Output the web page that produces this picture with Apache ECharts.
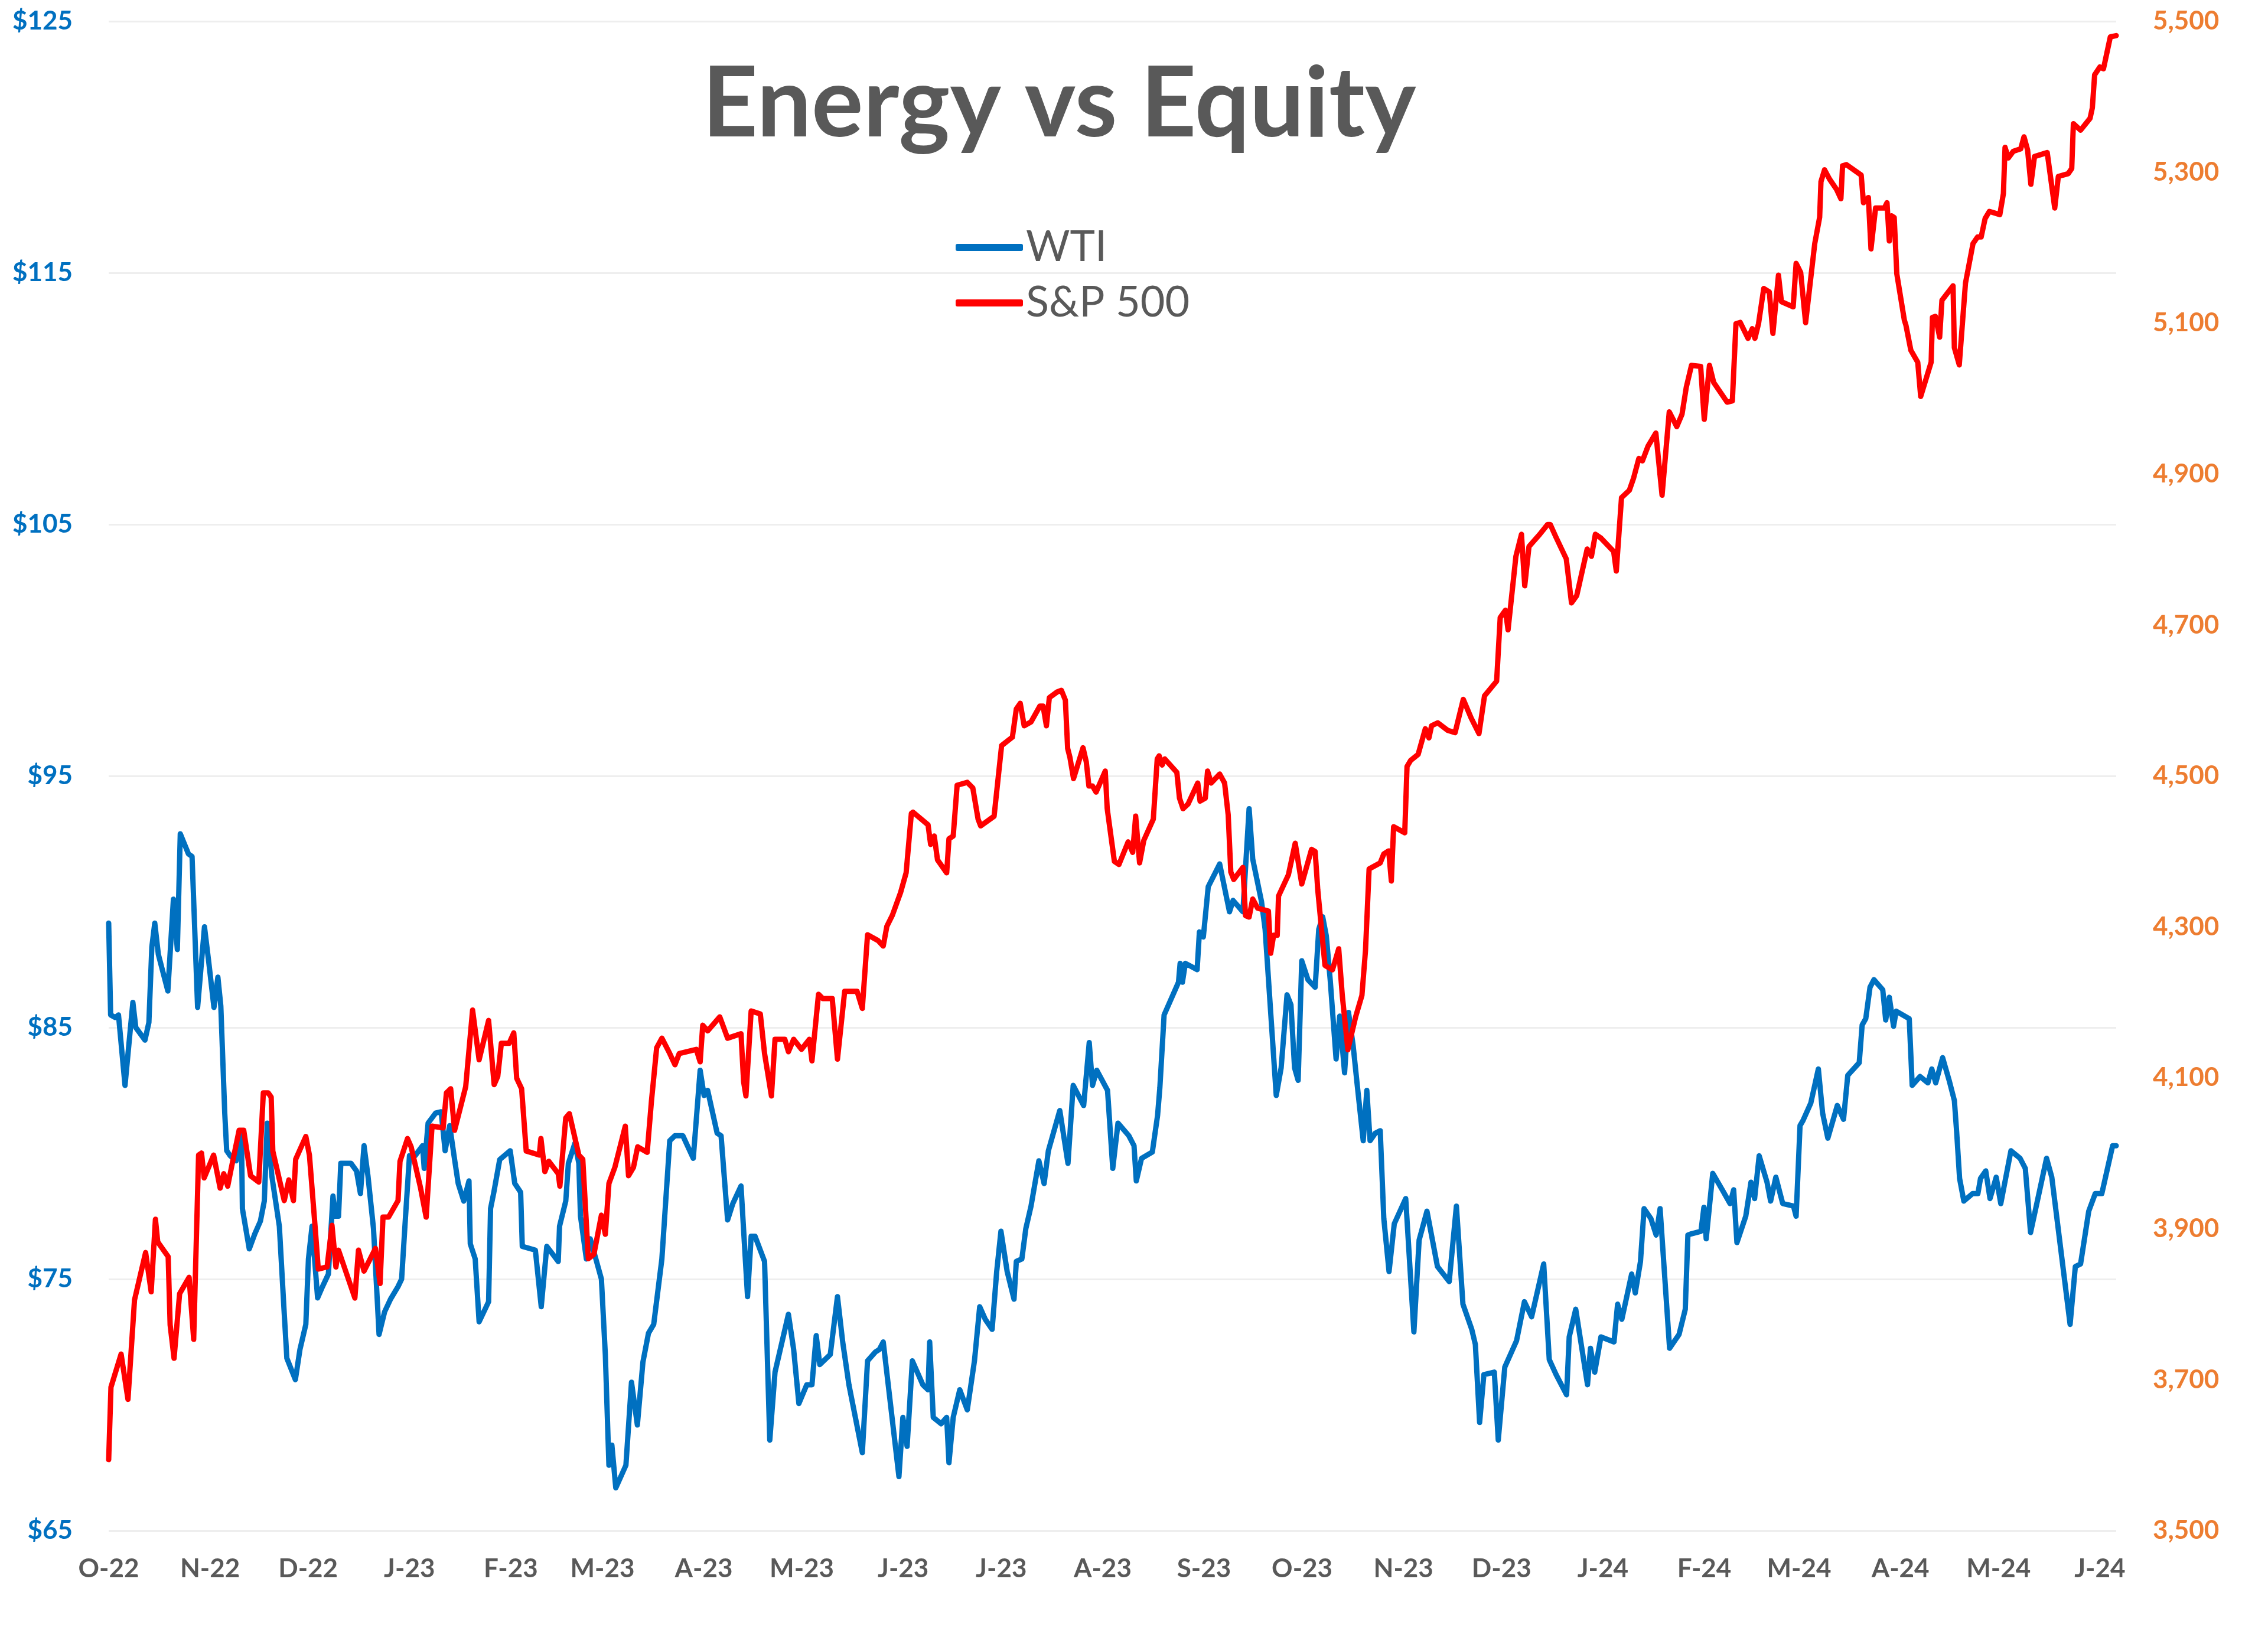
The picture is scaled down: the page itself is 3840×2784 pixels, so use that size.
<!DOCTYPE html>
<html>
<head>
<meta charset="utf-8">
<script src="https://cdn.jsdelivr.net/npm/echarts@6/dist/echarts.min.js"></script>
<style>
html,body{margin:0;padding:0;background:#fff;}
#chart{width:3840px;height:2784px;}
</style>
</head>
<body>
<div id="chart"></div>
<script>
// Day offsets from 13 Oct 2022 and values
const wtiDay = [0,0.6,2,3,5,7.4,8.3,11.1,12.3,13.2,14.1,15.2,18.1,19.8,21.0,21.9,24.4,25.5,27.2,29.3,30.7,32.2,33.4,34.3,35.5,36.1,37.2,39.0,40.1,40.6,40.9,43.0,44.7,46.4,47.6,48.5,49.9,52.2,53.6,54.5,57.1,58.5,60.3,61.1,62.2,63.9,65.4,67.2,68.6,69.3,70.3,71.0,74.1,75.8,77.0,78.1,79.3,81.0,82.7,84.4,86.2,88.5,89.6,90.8,92.0,93.7,96.0,96.5,97.7,100.0,101.7,102.9,104.3,105.8,106.9,108.6,110.2,110.6,112.1,113.3,116.2,116.8,117.8,119.6,122.8,124.2,126.0,126.5,130.5,132.3,134.0,137.5,137.9,139.8,140.6,142.6,143.8,144.3,146.1,147.3,149.0,150.7,151.9,153.0,153.9,155.1,158.2,159.9,161.7,163.4,
165.1,166.7,169.2,171.6,173.2,175.6,178.8,180.9,182.1,183.2,186.1,187.3,189.3,190.9,193.4,195.4,196.5,197.7,200.6,202.2,203.8,207.9,209.5,211.1,213.5,215.1,216.4,217.5,220.7,222.9,224.5,226.4,230.5,232.1,234.5,235.7,236.9,241.7,242.9,244.2,245.8,249.0,250.6,251.1,252.2,254.6,256.3,257.0,258.3,260.3,262.6,264.8,266.4,268.1,270.2,271.6,272.9,274.8,276.9,277.6,279.3,280.5,282.1,284.5,286.1,287.4,290.9,293.4,295.0,298.2,299.9,300.9,302.2,305.5,307.1,308.7,312.0,313.6,314.3,315.9,319.2,320.8,321.5,322.8,327.2,327.7,328.4,329.3,332.9,333.6,334.8,336.3,339.8,342.8,343.9,346.9,348.8,349.9,352.6,353.7,357.1,358.6,360.4,361.6,362.7,363.8,364.9,366.8,369.0,370.1,371.3,372.4,373.6,375.4,376.5,378.0,379.2,380.6,381.8,383.7,384.8,385.8,387.4,388.9,
390.0,391.6,393.2,396.7,399.2,400.8,403.2,406.4,410.0,412.2,414.2,416.9,418.0,419.3,420.6,423.8,425.0,427.0,430.6,433.0,435.2,438.9,440.6,442.7,445.9,446.7,448.7,452.3,453.2,454.5,456.4,460.4,461.5,462.8,465.8,466.9,468.5,469.6,471.7,473.3,474.5,477.4,480.3,482.2,483.0,484.1,487.0,487.9,488.6,490.6,493.5,495.9,497.0,498.0,500.7,502.3,503.4,504.8,507.2,508.3,509.9,512.0,515.3,516.1,517.3,518.2,520.6,522.9,524.2,525.8,528.7,530.6,531.9,535.4,536.3,537.4,538.7,539.9,542.6,543.5,544.6,545.9,546.7,550.7,551.6,554.0,556.4,557.6,558.8,560.9,562.9,564.5,565.2,566.1,567.4,570.1,571.7,572.5,574.1,575.4,577.3,578.7,581.8,584.6,586.2,587.8,592.7,594.3,599.9,601.5,603.1,605.6,607.6,609.6,612.9,614.0];
const wtiVal = [89.15,85.5,85.4,85.5,82.7,86.0,85.0,84.5,85.2,88.2,89.15,87.9,86.45,90.1,88.1,92.7,91.9,91.8,85.8,89.0,87.5,85.8,87.0,85.85,81.6,80.1,79.9,79.7,80.1,80.9,77.8,76.2,76.8,77.3,78.1,81.2,79.1,77.1,73.85,71.85,71.0,72.2,73.2,75.8,77.1,74.25,74.7,75.2,78.3,77.5,77.5,79.6,79.6,79.3,78.4,80.3,79.1,77.0,72.8,73.7,74.2,74.7,75.0,77.5,79.9,79.9,80.3,79.4,81.2,81.6,81.65,80.1,81.1,79.75,78.8,78.1,78.9,76.4,75.8,73.3,74.1,77.8,78.45,79.75,80.1,78.8,78.45,76.3,76.15,73.9,76.3,75.7,77.1,78.1,79.6,80.4,79.6,77.5,75.8,76.6,75.8,75.0,72.0,67.6,68.4,66.7,67.6,70.9,69.2,71.7,
72.85,73.2,75.8,80.5,80.7,80.7,79.8,83.3,82.3,82.5,80.8,80.7,77.35,78.0,78.7,74.3,76.7,76.7,75.7,68.6,71.3,73.6,72.2,70.05,70.8,70.8,72.75,71.6,72.0,74.3,72.5,70.8,68.1,71.75,72.1,72.2,72.5,67.15,69.5,68.35,71.75,70.8,70.6,72.5,69.5,69.25,69.5,67.7,69.5,70.6,69.8,71.75,73.9,73.4,73.0,75.3,76.9,75.3,74.2,75.7,75.8,77.0,77.9,79.7,78.8,80.1,81.7,79.6,82.7,81.9,84.4,82.7,83.3,82.5,79.4,81.2,80.7,80.3,78.9,79.8,80.05,81.5,82.6,85.5,86.8,87.55,86.8,87.55,87.3,88.8,88.6,90.6,91.5,89.6,90.05,89.6,93.7,91.7,90.0,88.9,82.3,83.4,86.3,85.9,83.4,82.9,87.65,86.9,86.6,88.9,89.4,88.65,86.9,83.75,85.45,83.2,85.6,84.3,82.8,80.5,82.5,80.5,80.8,80.9,
77.4,75.3,77.2,78.2,72.9,76.55,77.7,75.5,74.9,77.9,74.0,73.0,72.4,69.3,71.2,71.3,68.6,71.5,72.55,74.1,73.5,75.6,71.8,71.2,70.4,72.7,73.8,70.8,72.25,71.3,72.7,72.5,74.0,73.4,75.2,74.45,75.7,77.8,77.4,76.75,77.8,72.25,72.8,73.8,76.75,76.8,76.9,77.85,76.6,79.2,78.55,78.0,78.55,76.45,77.5,78.85,78.2,79.9,78.85,78.1,79.05,78.0,77.9,77.5,81.1,81.3,82.0,83.35,81.6,80.6,81.9,81.35,83.1,83.6,85.1,85.35,86.6,86.9,86.5,85.3,86.2,85.05,85.65,85.35,82.7,83.05,82.8,83.35,82.8,83.8,82.9,82.1,80.85,79.0,78.1,78.4,78.4,79.0,79.3,78.2,79.05,78.0,80.1,79.8,79.4,76.85,79.8,79.05,73.2,75.5,75.6,77.7,78.4,78.4,80.3,80.3];

const spxDay = [0,0.7,3.8,5.9,7.9,11.3,13.0,14.3,15.0,18.2,18.8,20.0,21.7,24.6,26.0,27.5,28.4,29.2,32.1,34.1,35.2,36.4,37.8,39.9,41.3,43.4,45.9,47.3,48.8,49.7,50.2,53.7,55.1,56.5,57.2,60.3,61.4,63.2,64.1,66.8,68.3,69.5,70.3,75.3,76.4,78.1,81.6,83.0,83.9,85.6,88.5,89.1,91.4,92.5,95.4,97.1,98.9,102.3,103.3,104.6,105.8,109.2,111.3,113.3,116.2,117.9,119.0,120.1,122.5,123.9,124.8,126.3,127.7,131.7,132.2,133.4,134.6,137.5,138.0,139.8,140.9,143.8,145.0,146.7,148.4,150.7,151.9,153.0,154.8,158.0,159.0,160.5,161.8,164.7,
166.0,167.6,169.2,171.6,173.2,174.5,179.7,180.9,181.7,183.2,186.9,189.3,193.4,194.2,194.9,196.5,199.3,200.6,202.7,203.8,206.8,207.9,209.5,211.9,214.3,215.1,217.1,218.4,221.3,222.9,225.1,228.9,230.5,232.1,235.3,236.9,238.0,239.7,242.2,243.9,245.5,246.0,250.6,251.4,252.5,253.5,256.3,257.0,258.3,259.5,262.6,264.3,265.9,266.7,270.8,273.1,276.4,277.6,278.8,280.0,282.1,284.8,285.8,286.8,287.7,290.1,291.4,
292.6,293.3,294.0,295.1,298.0,299.0,299.8,300.9,302.0,304.8,305.4,307.6,309.0,311.8,313.2,314.1,315.3,316.6,319.5,320.7,321.3,322.2,323.0,326.7,327.5,328.6,330.1,333.1,333.8,335.4,336.1,337.2,339.8,341.3,342.4,343.2,344.1,346.9,347.7,348.8,349.9,351.4,354.7,355.4,356.3,357.4,357.8,360.8,362.9,364.9,367.9,369.0,369.8,372.0,374.3,376.2,377.3,379.0,381.4,383.3,384.4,385.5,388.9,390.0,391.5,392.3,393.0,396.4,397.1,398.2,400.5,402.7,403.8,404.6,406.5,409.5,
411.8,414.3,416.7,419.1,420.8,424.5,425.6,427.2,428.0,430.4,432.1,433.1,434.4,437.7,440.1,440.9,442.6,445.8,447.4,449.0,452.2,453.5,454.7,456.3,460.3,461.1,462.7,465.1,466.4,468.0,469.1,470.8,473.2,475.1,477.3,479.6,481.2,482.5,484.1,486.9,488.0,489.6,490.9,495.0,496.6,497.7,499.0,501.4,502.7,503.5,504.6,506.2,507.9,
509.0,510.7,511.6,515.2,516.1,517.5,519.0,521.8,523.3,523.7,524.8,526.3,528.5,529.8,530.3,531.5,536.0,536.7,538.2,539.0,540.4,543.1,543.9,544.6,545.3,546.1,546.9,549.2,549.7,551.2,553.3,554.2,557.4,557.8,558.7,560.0,560.7,564.1,564.5,566.0,567.9,570.2,571.6,572.7,573.9,575.2,578.4,579.5,580.0,581.0,582.5,584.8,585.8,586.9,587.9,589.0,592.9,595.2,596.3,599.3,600.4,600.9,603.1,606.0,606.7,607.4,609.0,610.1,612.2,614.0];
const spxVal = [3594,3690,3734,3674,3805.5,3868.5,3816.5,3912.5,3882.6,3863,3772.6,3728.4,3814,3835.6,3753.5,3997.6,4000.3,3967.4,3997.6,3953.8,3973,3956.4,3986.6,4030.5,4030.5,3970.2,3961.9,4080,4080,4074.4,4003,3937.3,3964.7,3937.3,3992.1,4022.3,3997.6,3899,3846.6,3849.4,3904.5,3849.4,3871.6,3808.2,3871.6,3843.9,3874.1,3827.5,3915.4,3915.4,3937.3,3989.4,4019.5,4008.6,3953.8,3915.4,4036,4033.6,4080,4085.5,4030.5,4088.4,4189.7,4123.9,4176,4091,4102,4145.8,4145.8,4159.6,4099.3,4085.5,4003,3997.6,4019.5,3975.7,3989.4,3973,3956.4,4046.9,4052.5,3997.6,3992.1,3860.3,3866.1,3918,3892.7,3960,3981.2,4036,3970.2,3981.2,4008.6,4001.2,
4068.8,4139.7,4152.5,4132.2,4117.3,4132.2,4137.7,4121.2,4169.7,4162.2,4180.7,4152.5,4158.4,4094.6,4076,4188.5,4184.6,4132.2,4076,4151,4151,4134.5,4151,4137.7,4151,4122.4,4210.7,4205,4205,4124.7,4214.5,4214.5,4192,4289.5,4281.9,4274.6,4300.6,4315.6,4345.5,4371.6,4450.4,4452,4435.3,4409.2,4420.4,4388.8,4371.6,4416.6,4420.4,4487.7,4491.5,4484,4442.8,4433.8,4446.6,4540.2,4551.4,4588.8,4596.2,4566.5,4571.6,4592.5,4592.5,4566.5,4603.8,4611.3,4613.4,
4600.4,4536.5,4524.5,4496.5,4537.3,4518.5,4486.7,4486.7,4478.6,4506.5,4456.6,4386.7,4382.7,4412.7,4398.7,4446.8,4384.8,4414.7,4442.8,4522.5,4526.6,4514.5,4522.5,4504.7,4470.6,4456.6,4462.6,4490.6,4466.6,4470.6,4506.5,4490.6,4502.5,4490.6,4448.6,4372.8,4362.8,4378.8,4314.9,4313,4336.9,4324.8,4320.9,4265,4288.9,4288.9,4340.9,4368.8,4410.8,4356.8,4402.7,4400,4349,4249,4243.1,4271,4209.1,4137.2,4181.2,4209.1,4269.1,4376.8,4384.8,4396.7,4400.7,4360.8,4432.7,4424.7,4512.5,4520.5,4528.5,4562.6,4550.4,4566.5,4570.4,4560.5,
4557.4,4601.5,4576.9,4556.1,4606.1,4625.6,4709.8,4719.6,4693.6,4791,4820.2,4752,4804,4820.2,4833.2,4833.2,4816.9,4787.7,4729.3,4739,4800.7,4791,4820.2,4815.6,4797.5,4771.5,4868.8,4878.5,4894.8,4920.7,4917.5,4936.9,4954.4,4872,4982.4,4962.9,4979.2,5014.8,5044,5042.7,4972.6,5044,5021.3,4995.3,4997,5099.2,5101,5079.8,5092.7,5079.8,5099.2,5145.9,5141.4,
5086.5,5163.5,5128.5,5121.6,5179.2,5167,5100.6,5205.4,5240.3,5287.5,5303.2,5291,5277,5264.8,5308.4,5310,5296.2,5259.5,5266.5,5198.4,5252.6,5252.6,5259.5,5208.9,5242.1,5240,5165.2,5104,5097,5063.9,5048.2,5002.8,5048.2,5107.6,5109,5081.4,5130.3,5149.4,5067.4,5044.7,5153,5205.4,5214.2,5214.2,5238.6,5248,5243.8,5271.7,5332.9,5318.9,5327.6,5331,5346.9,5329.4,5284,5320.7,5326,5252.6,5294.4,5298,5304.9,5364.3,5355.6,5371.4,5385.3,5429,5439.4,5437,5479.3,5481];

const xTickLabels = ['O-22','N-22','D-22','J-23','F-23','M-23','A-23','M-23','J-23','J-23','A-23','S-23','O-23','N-23','D-23','J-24','F-24','M-24','A-24','M-24','J-24'];
const seriesNames = ['WTI', 'S&P 500'];

const DAY = 86400000;
const T0 = Date.UTC(2022, 9, 13);
const LAST_DAY = 614;
// day offset of the 13th of each labelled month
const tickDays = xTickLabels.map((_, i) => Math.round((Date.UTC(2022, 9 + i, 13) - T0) / DAY));
const toPairs = (days, vals) => days.map((d, i) => [d, vals[i]]);

const FONT = 'Lato, "Open Sans", sans-serif';
const chart = echarts.init(document.getElementById('chart'), null, {renderer: 'canvas'});
chart.setOption({
  animation: false,
  backgroundColor: '#ffffff',
  title: {
    text: 'Energy vs Equity',
    left: 1189, top: 96, padding: 0,
    textStyle: {fontSize: 164, fontWeight: 'bold', color: '#595959', fontFamily: FONT, lineHeight: 164}
  },
  legend: {
    orient: 'vertical', left: 1618, top: 379, padding: 0,
    itemWidth: 114, itemHeight: 12, itemGap: 14, icon: 'roundRect',
    data: seriesNames,
    textStyle: {fontSize: 72, color: '#595959', fontFamily: FONT, lineHeight: 80}
  },
  grid: {left: 184, right: 257, top: 36, bottom: 192, containLabel: false},
  xAxis: {
    type: 'value', min: 0, max: LAST_DAY,
    axisLine: {show: false}, axisTick: {show: false}, splitLine: {show: false},
    axisLabel: {
      customValues: tickDays,
      formatter: function (v) {
        const i = tickDays.indexOf(Math.round(v));
        return i >= 0 ? xTickLabels[i] : '';
      },
      margin: 43, fontSize: 44, fontWeight: 'bold', color: '#595959', fontFamily: FONT, lineHeight: 44,
      showMinLabel: true, showMaxLabel: true
    }
  },
  yAxis: [
    {
      type: 'value', position: 'left', min: 65, max: 125, interval: 10,
      axisLine: {show: false}, axisTick: {show: false},
      splitLine: {show: true, lineStyle: {color: '#EEEEEE', width: 3}},
      axisLabel: {formatter: v => '$' + v, margin: 61, fontSize: 44, fontWeight: 'bold', color: '#0070C0', fontFamily: FONT}
    },
    {
      type: 'value', position: 'right', min: 3500, max: 5500, interval: 200,
      axisLine: {show: false}, axisTick: {show: false}, splitLine: {show: false},
      axisLabel: {formatter: v => v.toLocaleString('en-US'), margin: 62, fontSize: 44, fontWeight: 'bold', color: '#ED7D31', fontFamily: FONT}
    }
  ],
  series: [
    {
      name: seriesNames[0], type: 'line', yAxisIndex: 0, data: toPairs(wtiDay, wtiVal),
      showSymbol: false, symbol: 'none', color: '#0070C0',
      lineStyle: {width: 9, color: '#0070C0', cap: 'round', join: 'round'}, z: 2
    },
    {
      name: seriesNames[1], type: 'line', yAxisIndex: 1, data: toPairs(spxDay, spxVal),
      showSymbol: false, symbol: 'none', color: '#FF0000',
      lineStyle: {width: 9, color: '#FF0000', cap: 'round', join: 'round'}, z: 3
    }
  ]
});
</script>
</body>
</html>
